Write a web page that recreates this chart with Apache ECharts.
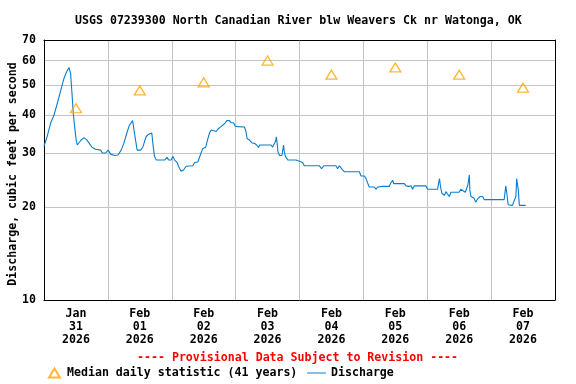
<!DOCTYPE html>
<html><head><meta charset="utf-8">
<script src="https://cdn.jsdelivr.net/npm/echarts@6/dist/echarts.min.js"></script>
<style>html,body{margin:0;padding:0;background:#fff}#c{width:576px;height:384px}</style>
</head><body><div id="c"></div>
<script>
const chartTitle = 'USGS 07239300 North Canadian River blw Weavers Ck nr Watonga, OK';
const provisionalText = '---- Provisional Data Subject to Revision ----';
const yAxisName = 'Discharge, cubic feet per second';
const medianName = 'Median daily statistic (41 years)';
const dischargeName = 'Discharge';

// x axis: hours since 2026-01-31 00:00
const dayBoundaryHours = [24, 48, 72, 96, 120, 144, 168];
const dayLabelHours = [12, 36, 60, 84, 108, 132, 156, 180];
const dayLabels = ['Jan\n31\n2026', 'Feb\n01\n2026', 'Feb\n02\n2026', 'Feb\n03\n2026',
                   'Feb\n04\n2026', 'Feb\n05\n2026', 'Feb\n06\n2026', 'Feb\n07\n2026'];
const yGridValues = [20, 30, 40, 50, 60];
const yLabelValues = [10, 20, 30, 40, 50, 60, 70];
const yMin = 10, yMax = 70, xMin = 0, xMax = 192;

const medianHours = [12, 36, 60, 84, 108, 132, 156, 180];
const medianValues = [42, 48, 51, 60, 54, 57, 54, 49];

const dischargeHours = [0,1.2,2.5,3.8,5.0,6.3,7.5,8.4,9.4,10.0,
10.6,11.0,11.5,12.1,12.5,13.1,13.8,15.0,16.0,16.9,
18.1,19.4,21.3,21.9,23.2,24.1,25.0,26.5,27.8,29.0,
30.0,31.3,32.1,33.3,34.0,35.0,36.3,37.2,37.8,38.4,
39.3,40.5,40.9,41.5,42.2,45.3,46.3,46.8,47.8,48.4,
49.1,50.0,50.9,51.5,52.5,53.4,54.0,55.9,56.6,57.8,
58.4,59.0,59.7,60.7,61.6,62.2,62.8,63.4,64.7,65.3,
66.5,67.8,68.7,69.7,70.3,71.2,71.9,72.8,75.3,75.9,
76.3,77.2,78.2,79.1,79.9,80.6,81.0,85.3,85.9,86.6,
87.0,87.3,87.6,87.9,88.5,89.4,90.0,90.3,90.7,91.6,
94.7,95.3,97.2,97.8,103.5,104.3,105.1,109.7,110.3,111.0,
111.6,112.2,112.9,118.5,119.1,120.4,121.0,121.6,122.2,124.1,
124.7,125.4,127.2,129.7,130.3,131.0,131.4,135.4,136.0,137.0,
137.5,137.9,138.5,139.1,143.5,144.1,147.9,148.2,148.6,149.0,
149.5,150.0,150.5,151.0,151.6,152.3,152.9,156.0,156.6,157.3,
158.3,158.8,159.3,159.8,160.0,160.4,161.6,162.2,162.9,163.9,
164.8,165.4,172.9,173.5,173.9,174.4,176.0,176.7,177.3,177.6,
178.2,178.6,181.0];
const dischargeValues = [31.6,34,37.6,40,43.6,48,52.5,55,57,54.5,
45.8,40.4,36.6,33.1,31.9,31.9,33,33.7,33.2,32.4,
31.3,30.9,30.7,30.05,30.05,30.7,29.8,29.5,29.6,30.7,
32.3,35.3,37,38.3,34.8,30.7,30.7,31.5,32.8,34.0,
34.6,34.9,32.3,29.3,28.5,28.5,29.1,28.5,28.5,29.3,
28.5,28.0,26.8,26.2,26.5,27.2,27.3,27.3,28.0,28.1,
28.5,30.05,31.1,31.3,33.5,34.9,35.7,35.3,35.3,35.9,
36.6,37.4,38.3,38.3,37.7,37.7,36.7,36.6,36.5,35.3,
33.5,33.1,32.4,32.3,31.9,31.3,31.9,31.9,31.4,31.4,
32.8,33.9,32.3,30.3,29.5,29.5,31.9,30.3,29.3,28.5,
28.5,28.1,28.0,27.3,27.3,26.7,27.3,27.3,26.7,27.3,
27.0,26.5,26.1,26.1,25.3,25.3,24.8,24.0,23.3,23.3,
22.9,23.3,23.4,23.4,24.0,24.5,23.9,23.9,23.5,23.4,
23.2,23.5,22.9,23.5,23.5,22.9,22.9,23.8,24.8,23.3,
22.2,22.5,21.9,22.5,22.2,21.7,22.4,22.4,22.9,22.8,
22.4,22.5,23.7,25.5,22.8,21.7,21.4,20.8,21.3,21.7,
21.7,21.2,21.2,23.5,22.2,20.4,20.3,20.6,21.7,24.8,
22.8,20.3,20.3];

const FONT = 'DejaVu Sans Mono';
const FS = 11.6;
const lg = Math.log10;

const chart = echarts.init(document.getElementById('c'), null, {renderer: 'canvas'});
chart.setOption({
  animation: false,
  backgroundColor: '#fff',
  title: [
    {text: chartTitle, left: 75, top: 15, padding: 0,
     textStyle: {fontFamily: FONT, fontSize: FS, fontWeight: 'bold', color: '#000'}},
    {text: provisionalText, left: 137, top: 352, padding: 0,
     textStyle: {fontFamily: FONT, fontSize: FS, fontWeight: 'bold', color: '#ff0000'}}
  ],
  legend: [
    {data: [medianName], left: 48, top: 367, padding: 0, itemWidth: 11, itemHeight: 9, itemGap: 0,
     textStyle: {fontFamily: FONT, fontSize: FS, fontWeight: 'bold', color: '#000', padding: [0,0,0,2]}},
    {data: [{name: dischargeName, icon: 'rect'}], left: 307, top: 367, padding: 0,
     itemWidth: 19, itemHeight: 1, itemGap: 0, symbolKeepAspect: false,
     textStyle: {fontFamily: FONT, fontSize: FS, fontWeight: 'bold', color: '#000'}}
  ],
  grid: {left: 44, right: 21, top: 40, bottom: 84, containLabel: false, outerBoundsMode: 'none'},
  xAxis: [
    {type: 'value', min: xMin, max: xMax,
     axisLine: {show: true, onZero: false, lineStyle: {color: '#000', width: 1}},
     axisTick: {show: false, customValues: dayBoundaryHours},
     splitLine: {show: true, lineStyle: {color: '#c4c4c4', width: 1}},
     axisLabel: {customValues: dayLabelHours, margin: 7, color: '#000',
       fontFamily: FONT, fontSize: FS, fontWeight: 'bold', lineHeight: 13,
       formatter: v => dayLabels[dayLabelHours.indexOf(Math.round(v))] || ''}},
    {type: 'value', min: xMin, max: xMax, position: 'top', z: 3,
     axisLine: {show: true, onZero: false, lineStyle: {color: '#000', width: 1}},
     axisTick: {show: false}, axisLabel: {show: false}, splitLine: {show: false}}
  ],
  yAxis: [
    {type: 'value', min: lg(yMin), max: lg(yMax),
     name: yAxisName, nameLocation: 'middle', nameGap: 25, nameMoveOverlap: false,
     nameTextStyle: {fontFamily: FONT, fontSize: FS, fontWeight: 'bold', color: '#000',
       padding: [0, 8, 0, 0]},
     axisLine: {show: true, onZero: false, lineStyle: {color: '#000', width: 1}},
     axisTick: {show: false, customValues: yGridValues.map(lg)},
     splitLine: {show: true, lineStyle: {color: '#c4c4c4', width: 1}},
     axisLabel: {customValues: yLabelValues.map(lg), margin: 8, color: '#000',
       fontFamily: FONT, fontSize: FS, fontWeight: 'bold',
       formatter: v => String(Math.round(Math.pow(10, v)))}},
    {type: 'value', min: lg(yMin), max: lg(yMax), position: 'right', z: 3,
     axisLine: {show: true, onZero: false, lineStyle: {color: '#000', width: 1}},
     axisTick: {show: false}, axisLabel: {show: false}, splitLine: {show: false}}
  ],
  series: [
    {name: dischargeName, type: 'line', xAxisIndex: 0, yAxisIndex: 0,
     symbol: 'none', data: dischargeHours.map((h, i) => [h, lg(dischargeValues[i])]),
     lineStyle: {color: '#0a7dcd', width: 1.1}, itemStyle: {color: '#0a7dcd'}, z: 4},
    {name: medianName, type: 'scatter', xAxisIndex: 0, yAxisIndex: 0,
     symbol: 'triangle', symbolSize: [11, 9],
     data: medianHours.map((h, i) => [h, lg(medianValues[i])]),
     itemStyle: {color: 'rgba(255,255,255,0)', borderColor: '#ffa500', borderWidth: 1.3}, z: 5}
  ]
});
</script>
</body></html>
